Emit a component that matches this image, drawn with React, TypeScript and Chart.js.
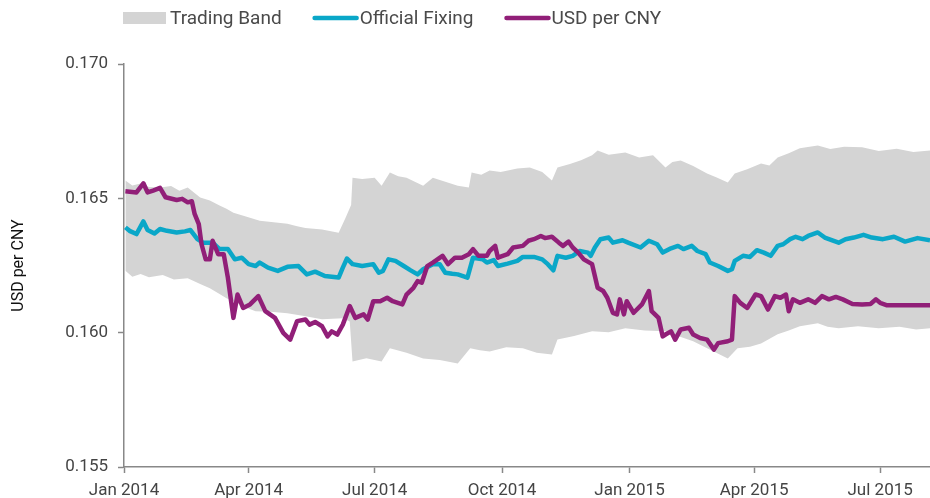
import React, { useEffect, useRef } from "react";
import { Chart, registerables } from "chart.js";

Chart.register(...registerables);

// Days are counted from 1 Jan 2014
const xTickDays = [0, 90, 181, 273, 365, 455, 546];
const xTickLabels = ["Jan 2014", "Apr 2014", "Jul 2014", "Oct 2014", "Jan 2015", "Apr 2015", "Jul 2015"];
const yTicks = [0.155, 0.16, 0.165, 0.17];

const usdCnyDays = [1, 9, 14, 17, 21, 26, 30, 38, 42, 46, 49, 51, 54, 56, 59, 62, 64, 68, 72, 75, 79, 82, 86, 91, 97, 102, 109, 115, 120, 125, 131, 134, 138, 143, 147, 150, 154, 158, 163, 167, 173, 176, 180, 185, 190, 194, 201, 204, 209, 212, 215, 219, 223, 230, 234, 239, 244, 249, 252, 256, 262, 264, 268, 270, 277, 281, 288, 292, 296, 301, 304, 309, 314, 317, 321, 324, 328, 332, 338, 342, 346, 349, 353, 356, 358, 361, 363, 368, 374, 379, 381, 386, 389, 391, 395, 398, 402, 408, 411, 416, 421, 426, 429, 436, 439, 441, 445, 450, 456, 460, 465, 470, 474, 478, 480, 483, 488, 494, 499, 504, 509, 514, 519, 526, 533, 539, 543, 546, 551, 564, 582];
const usdCnyValues = [0.16526, 0.16522, 0.16556, 0.16522, 0.16529, 0.16539, 0.16504, 0.16494, 0.16498, 0.16485, 0.16489, 0.16442, 0.16404, 0.16329, 0.16273, 0.16273, 0.16342, 0.16292, 0.16292, 0.16205, 0.16055, 0.16142, 0.16092, 0.16105, 0.16136, 0.1608, 0.16055, 0.15999, 0.15974, 0.16043, 0.16049, 0.1603, 0.1604, 0.16024, 0.15986, 0.16005, 0.15993, 0.1603, 0.16099, 0.16055, 0.16068, 0.16049, 0.16117, 0.16117, 0.1613, 0.16117, 0.16105, 0.16142, 0.16167, 0.16192, 0.16186, 0.16248, 0.16261, 0.16286, 0.16255, 0.16279, 0.16279, 0.16292, 0.16311, 0.16286, 0.16286, 0.16304, 0.16323, 0.16279, 0.16292, 0.16317, 0.16323, 0.16342, 0.16348, 0.1636, 0.16352, 0.16357, 0.16335, 0.16323, 0.16339, 0.16317, 0.16298, 0.16273, 0.16255, 0.16167, 0.16155, 0.1613, 0.16074, 0.16068, 0.16124, 0.16068, 0.16117, 0.16074, 0.16105, 0.16155, 0.1608, 0.16055, 0.15986, 0.15993, 0.16005, 0.15974, 0.16012, 0.16018, 0.15993, 0.1598, 0.15974, 0.15937, 0.15961, 0.15968, 0.15974, 0.16136, 0.16111, 0.16092, 0.16142, 0.16136, 0.16086, 0.16136, 0.1613, 0.16142, 0.1608, 0.16124, 0.16111, 0.16124, 0.16111, 0.16136, 0.16124, 0.16133, 0.16124, 0.16107, 0.16105, 0.16107, 0.16124, 0.16111, 0.16102, 0.16102, 0.16102];

const fixingDays = [1, 4, 9, 14, 17, 22, 26, 31, 38, 44, 48, 53, 57, 64, 69, 75, 80, 85, 90, 95, 98, 104, 111, 118, 126, 132, 138, 145, 155, 158, 161, 165, 172, 180, 184, 187, 191, 196, 202, 207, 212, 216, 223, 228, 232, 237, 241, 248, 252, 259, 262, 267, 270, 277, 284, 288, 296, 302, 306, 310, 313, 319, 324, 329, 335, 337, 340, 344, 350, 353, 360, 364, 373, 379, 385, 389, 395, 400, 404, 410, 414, 420, 423, 429, 436, 439, 441, 447, 452, 457, 462, 467, 472, 476, 481, 485, 490, 494, 501, 506, 516, 521, 527, 534, 540, 548, 556, 564, 573, 582];
const fixingValues = [0.16392, 0.16379, 0.16367, 0.16414, 0.16382, 0.16369, 0.16386, 0.16379, 0.16373, 0.16377, 0.16382, 0.16348, 0.16335, 0.16335, 0.16311, 0.16311, 0.16273, 0.16279, 0.16255, 0.16248, 0.16261, 0.16242, 0.1623, 0.16245, 0.16248, 0.16217, 0.16227, 0.16211, 0.16205, 0.16242, 0.16276, 0.16255, 0.16248, 0.16255, 0.16223, 0.1623, 0.16273, 0.16267, 0.16248, 0.16232, 0.16217, 0.16236, 0.16255, 0.16255, 0.16223, 0.16219, 0.16217, 0.16205, 0.16279, 0.16273, 0.16261, 0.1627, 0.16248, 0.16257, 0.16267, 0.16282, 0.16282, 0.16273, 0.16255, 0.16232, 0.16286, 0.16279, 0.16286, 0.16304, 0.16298, 0.16286, 0.16317, 0.16348, 0.16354, 0.16335, 0.16344, 0.16335, 0.16317, 0.16342, 0.16329, 0.16298, 0.16314, 0.16323, 0.16311, 0.16323, 0.16304, 0.16292, 0.16261, 0.16248, 0.1623, 0.16236, 0.16267, 0.16286, 0.16282, 0.16307, 0.16298, 0.16286, 0.16323, 0.16329, 0.16348, 0.16357, 0.16348, 0.1636, 0.16373, 0.16354, 0.16335, 0.16348, 0.16354, 0.16364, 0.16354, 0.16348, 0.16357, 0.16339, 0.16352, 0.16344];

const bandUpperDays = [1, 6, 12, 18, 26, 34, 40, 46, 55, 62, 69, 74, 79, 88, 98, 108, 118, 125, 131, 143, 155, 160, 164, 165, 172, 181, 186, 192, 198, 204, 210, 216, 223, 232, 241, 249, 251, 258, 264, 272, 284, 293, 302, 309, 313, 322, 330, 338, 342, 350, 362, 372, 382, 391, 396, 402, 411, 421, 428, 436, 441, 450, 460, 466, 472, 480, 488, 495, 501, 510, 520, 533, 545, 558, 570, 582];
const bandUpperValues = [0.16566, 0.16548, 0.16555, 0.16542, 0.1654, 0.16546, 0.16528, 0.1654, 0.16503, 0.16492, 0.16473, 0.16461, 0.16446, 0.16432, 0.16417, 0.16411, 0.16405, 0.16396, 0.1639, 0.16384, 0.16372, 0.16428, 0.16475, 0.16577, 0.16572, 0.16577, 0.16547, 0.16596, 0.16582, 0.16577, 0.16562, 0.16547, 0.16577, 0.16562, 0.16547, 0.1654, 0.16596, 0.16588, 0.16604, 0.16598, 0.16611, 0.16615, 0.16598, 0.16566, 0.16615, 0.16628, 0.16642, 0.1666, 0.16678, 0.16662, 0.16671, 0.16652, 0.1666, 0.16615, 0.16635, 0.16641, 0.1662, 0.16592, 0.16578, 0.16559, 0.16592, 0.16608, 0.1663, 0.16622, 0.16652, 0.16668, 0.16686, 0.16692, 0.16697, 0.16684, 0.16692, 0.1669, 0.16676, 0.16685, 0.16672, 0.16678];

const bandLowerDays = [1, 6, 12, 18, 28, 36, 46, 55, 62, 69, 74, 79, 88, 95, 106, 118, 130, 143, 158, 163, 165, 175, 186, 192, 204, 216, 228, 241, 250, 257, 264, 276, 288, 298, 309, 313, 325, 338, 350, 362, 376, 391, 400, 411, 424, 436, 443, 452, 460, 472, 480, 488, 501, 508, 516, 530, 545, 560, 572, 582];
const bandLowerValues = [0.1623, 0.16208, 0.16218, 0.16206, 0.16215, 0.16198, 0.16203, 0.16181, 0.16165, 0.16144, 0.16128, 0.16117, 0.16094, 0.1608, 0.16078, 0.16072, 0.16062, 0.1605, 0.16054, 0.16042, 0.15893, 0.15905, 0.15893, 0.15942, 0.15925, 0.15904, 0.15898, 0.15885, 0.15942, 0.15935, 0.1593, 0.15946, 0.15942, 0.15925, 0.15919, 0.15975, 0.15988, 0.16005, 0.16002, 0.16016, 0.16008, 0.16005, 0.15988, 0.15968, 0.15935, 0.15904, 0.15942, 0.15948, 0.1596, 0.15994, 0.16008, 0.16024, 0.16035, 0.16022, 0.16016, 0.16024, 0.16016, 0.16022, 0.16012, 0.16016];

const legendItems = [
  { label: "Trading Band", color: "#d4d4d4", kind: "box" },
  { label: "Official Fixing", color: "#0aa7c8", kind: "line" },
  { label: "USD per CNY", color: "#911f78", kind: "line" },
];

const FONT = "Roboto, 'Noto Sans', sans-serif";

const pts = (days: number[], vals: number[]) => days.map((d, i) => ({ x: d, y: vals[i] }));

const legendPlugin = {
  id: "customLegend",
  afterDraw(chart: any) {
    const ctx = chart.ctx;
    ctx.save();
    ctx.font = `19px ${FONT}`;
    ctx.textBaseline = "middle";
    const y = 18;
    let x = 123;
    legendItems.forEach((it) => {
      if (it.kind === "box") {
        ctx.fillStyle = it.color;
        ctx.fillRect(x, y - 6, 43, 12);
      } else {
        ctx.strokeStyle = it.color;
        ctx.lineWidth = 4.5;
        ctx.lineCap = "round";
        ctx.beginPath();
        ctx.moveTo(x + 2, y);
        ctx.lineTo(x + 44, y);
        ctx.stroke();
      }
      ctx.fillStyle = "#4a4a4a";
      ctx.fillText(it.label, x + 47, y + 1);
      const w = ctx.measureText(it.label).width;
      x += 47 + w + 31;
    });
    ctx.restore();
  },
};

export default function App() {
  const ref = useRef<HTMLCanvasElement>(null);
  useEffect(() => {
    if (!ref.current) return;
    const chart = new Chart(ref.current, {
      type: "line",
      data: {
        datasets: [
          {
            label: "USD per CNY",
            data: pts(usdCnyDays, usdCnyValues),
            borderColor: "#911f78",
            borderWidth: 4.5,
            pointRadius: 0,
            fill: false,
            borderJoinStyle: "round",
            order: 0,
          },
          {
            label: "Official Fixing",
            data: pts(fixingDays, fixingValues),
            borderColor: "#0aa7c8",
            borderWidth: 4.5,
            pointRadius: 0,
            fill: false,
            borderJoinStyle: "round",
            order: 1,
          },
          {
            label: "Band upper",
            data: pts(bandUpperDays, bandUpperValues),
            borderWidth: 0,
            borderColor: "rgba(0,0,0,0)",
            backgroundColor: "#d4d4d4",
            pointRadius: 0,
            fill: "+1",
            order: 2,
          },
          {
            label: "Band lower",
            data: pts(bandLowerDays, bandLowerValues),
            borderWidth: 0,
            borderColor: "rgba(0,0,0,0)",
            backgroundColor: "#d4d4d4",
            pointRadius: 0,
            fill: false,
            order: 3,
          },
        ],
      },
      options: {
        animation: false,
        responsive: false,
        layout: { padding: { top: 64, left: 0, right: 0, bottom: 0 } },
        plugins: { legend: { display: false }, tooltip: { enabled: false } },
        scales: {
          x: {
            type: "linear",
            min: 0,
            max: 582,
            afterBuildTicks: (scale: any) => {
              scale.ticks = xTickDays.map((v) => ({ value: v }));
            },
            afterFit: (scale: any) => {
              scale.height = 31;
            },
            ticks: {
              autoSkip: false,
              maxRotation: 0,
              padding: 8,
              color: "#444",
              font: { family: FONT, size: 17 },
              callback: (v: any) => {
                const i = xTickDays.indexOf(Number(v));
                return i >= 0 ? xTickLabels[i] : "";
              },
            },
            grid: { display: true, drawOnChartArea: false, tickLength: 6, tickColor: "#888", tickWidth: 1.5 },
            border: { color: "#888", width: 1.5 },
          },
          y: {
            type: "linear",
            min: 0.155,
            max: 0.17,
            afterBuildTicks: (scale: any) => {
              scale.ticks = yTicks.map((v) => ({ value: v }));
            },
            afterFit: (scale: any) => {
              scale.width = 124;
            },
            ticks: {
              padding: 10,
              color: "#444",
              font: { family: FONT, size: 17 },
              callback: (v: any) => Number(v).toFixed(3),
            },
            grid: { display: true, drawOnChartArea: false, tickLength: 6, tickColor: "#888", tickWidth: 1.5 },
            border: { color: "#888", width: 1.5 },
            title: {
              display: true,
              text: "USD per CNY",
              color: "#111",
              font: { family: FONT, size: 16 },
              padding: { top: 9, bottom: 0 },
            },
          },
        },
      },
      plugins: [legendPlugin],
    });
    return () => chart.destroy();
  }, []);
  return (
    <div style={{ position: "fixed", left: 0, top: 0, width: 930, height: 498, background: "#fff" }}>
      <canvas ref={ref} width={930} height={498} style={{ display: "block" }} />
    </div>
  );
}
